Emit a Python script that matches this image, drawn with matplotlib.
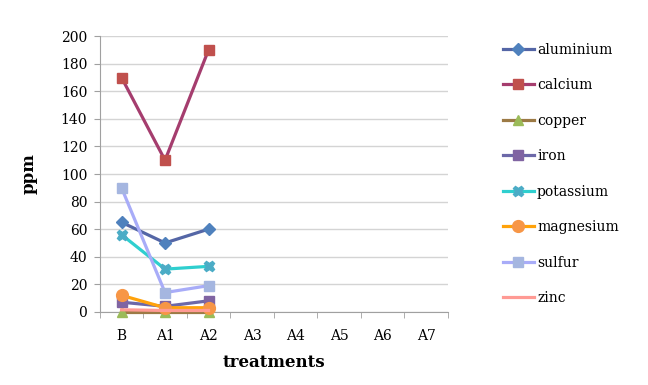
import matplotlib.pyplot as plt
import numpy as np

plt.rcParams['font.family'] = ['DejaVu Serif']

treatments = ['B', 'A1', 'A2', 'A3', 'A4', 'A5', 'A6', 'A7']
measured = ['B', 'A1', 'A2']

aluminium = [65, 50, 60]
calcium = [170, 110, 190]
copper = [0, 0, 0]
iron = [7, 4, 8]
potassium = [56, 31, 33]
magnesium = [12, 3, 3]
sulfur = [90, 14, 19]
zinc = [1.5, 1, 1]

series = [
    ('aluminium', aluminium, '#5466a6', 'D', '#4f81bd', 6),
    ('calcium', calcium, '#a53d6e', 's', '#c0504d', 7.5),
    ('copper', copper, '#9c7a45', '^', '#9bbb59', 7.5),
    ('iron', iron, '#6c68a8', 's', '#8064a2', 7.5),
    ('potassium', potassium, '#2fcfcf', 'X', '#4bacc6', 7.5),
    ('magnesium', magnesium, '#ffa20a', 'o', '#f79646', 8.5),
    ('sulfur', sulfur, '#a8acf8', 's', '#a5b6e0', 7.5),
    ('zinc', zinc, '#ff9a94', None, '#ff9a94', 0),
]

fig = plt.figure(figsize=(6.48, 3.85), dpi=100)
ax = fig.add_axes([0.154, 0.19, 0.537, 0.716])

x = np.arange(len(measured))
for name, vals, lc, mk, mc, ms in series:
    ax.plot(x, vals, color=lc, lw=2.3, marker=mk, markersize=ms,
            markerfacecolor=mc, markeredgecolor=mc, label=name, clip_on=False,
            zorder=3)

ax.set_xlim(-0.5, len(treatments) - 0.5)
ax.set_ylim(0, 200)
ax.set_yticks(range(0, 201, 20))
ax.set_xticks(range(len(treatments)))
ax.set_xticklabels(treatments)
ax.set_xticks(np.arange(-0.5, len(treatments)), minor=True)
ax.tick_params(axis='x', which='major', length=0, pad=12, labelsize=10)
ax.tick_params(axis='x', which='minor', length=4, color='#a0a0a0', direction='out')
ax.tick_params(axis='y', length=4, color='#a0a0a0', direction='out', labelsize=10, pad=5)
ax.grid(axis='y', color='#d4d4d4', lw=1)
ax.set_axisbelow(True)
for s in ['top', 'right']:
    ax.spines[s].set_visible(False)
for s in ['left', 'bottom']:
    ax.spines[s].set_color('#a0a0a0')

ax.set_xlabel('treatments', fontsize=12, fontweight='bold', labelpad=8)
ax.set_ylabel('ppm', fontsize=12, fontweight='bold', labelpad=17)

fig.legend(loc='upper left', bbox_to_anchor=(0.757, 0.922), frameon=False,
           fontsize=10, labelspacing=1.55, handlelength=2.2, handletextpad=0.25)

fig.savefig('out.png', dpi=100)
